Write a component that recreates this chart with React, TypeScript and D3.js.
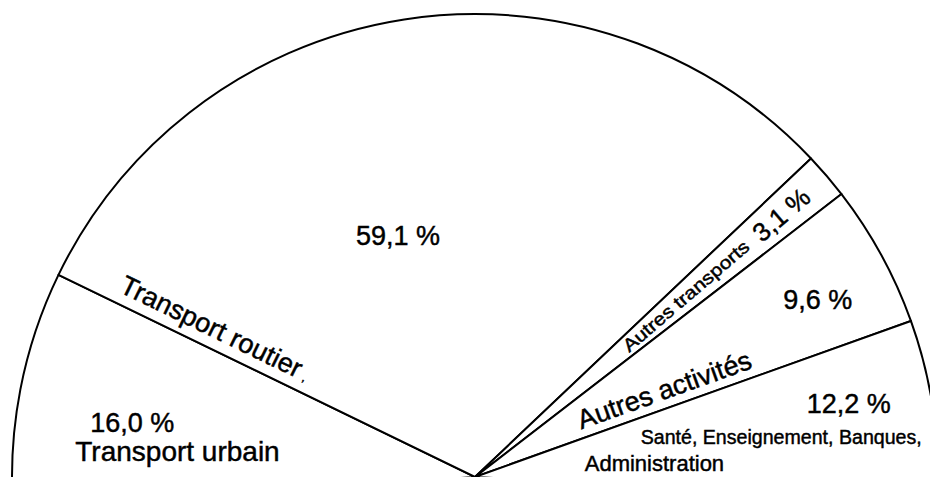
import React from "react";
import * as d3 from "d3";

// ---- data ----
const categories = [
  "Transport urbain",
  "Transport routier",
  "Autres transports",
  "Autres activités",
  "Santé, Enseignement, Banques, Administration",
];
const shares = [16.0, 59.1, 3.1, 9.6, 12.2];
const shareLabels = ["16,0 %", "59,1 %", "3,1 %", "9,6 %", "12,2 %"];

// ---- layout ----
const W = 930;
const H = 477;
const CX = 475;
const CY = 477;
const R = 463;
const START_DEG = -94.06;
const END_DEG = 93.14;
const FONT = "'Liberation Sans', Arial, Helvetica, sans-serif";

const rad = (d: number) => (d * Math.PI) / 180;
const deg = (r: number) => (r * 180) / Math.PI;

export default function App() {
  const pie = d3
    .pie<number>()
    .sort(null)
    .value((d) => d)
    .startAngle(rad(START_DEG))
    .endAngle(rad(END_DEG));
  const arcs = pie(shares);
  const arcGen = d3.arc<d3.PieArcDatum<number>>().innerRadius(0).outerRadius(R);

  const polar = (a: number, r: number) => [CX + r * Math.sin(a), CY - r * Math.cos(a)];
  const within = (i: number, f: number) =>
    arcs[i].startAngle + f * (arcs[i].endAngle - arcs[i].startAngle);

  const a0 = polar(within(0, 0.44), 0.754 * R);
  const a1 = polar(within(1, 0.42), 0.549 * R);
  const a3 = polar(within(3, 0.57), 0.834 * R);
  const a4 = polar(within(4, 0.37), 0.823 * R);

  const rotRoutier = deg(arcs[1].startAngle) + 90;
  const midTrans = (arcs[2].startAngle + arcs[2].endAngle) / 2;
  const rotTrans = deg(midTrans) - 90;
  const rotAct = deg(arcs[3].endAngle) - 90;

  const txt = { fill: "#000", stroke: "#000", strokeWidth: 0.45 };

  return (
    <svg
      width={W}
      height={H}
      style={{ position: "absolute", left: 0, top: 0, background: "#fff" }}
      fontFamily={FONT}
    >
      <rect width={W} height={H} fill="#fff" />
      <g transform={`translate(${CX},${CY})`}>
        {arcs.map((a, i) => (
          <path
            key={categories[i]}
            d={arcGen(a) || ""}
            fill="#fff"
            stroke="#000"
            strokeWidth={2}
            strokeLinejoin="round"
          />
        ))}
      </g>

      {/* Transport urbain */}
      <text x={a0[0] - 40} y={a0[1] + 10} fontSize={27} {...txt}>
        {shareLabels[0]}
      </text>
      <text x={a0[0] - 55} y={a0[1] + 39} fontSize={28} {...txt}>
        {categories[0]}
      </text>

      {/* Transport routier */}
      <text x={a1[0]} y={a1[1] + 10} fontSize={27} textAnchor="middle" {...txt}>
        {shareLabels[1]}
      </text>
      <g transform={`translate(${CX},${CY}) rotate(${rotRoutier})`}>
        <text x={-402} y={-11} fontSize={27} {...txt}>
          {categories[1]}
          <tspan fontSize={12} dx={5}>,</tspan>
        </text>
      </g>

      {/* Autres transports */}
      <g transform={`translate(${CX},${CY}) rotate(${rotTrans})`}>
        <text x={198} y={6} fontSize={18} textLength={160} lengthAdjust="spacingAndGlyphs" {...txt}>
          {categories[2]}
        </text>
        <text x={370} y={9} fontSize={26} {...txt}>
          {shareLabels[2]}
        </text>
      </g>

      {/* Autres activités */}
      <text x={a3[0]} y={a3[1] + 10} fontSize={27} textAnchor="middle" {...txt}>
        {shareLabels[3]}
      </text>
      <g transform={`translate(${CX},${CY}) rotate(${rotAct})`}>
        <text x={116} y={-9} fontSize={27} {...txt}>
          {categories[3]}
        </text>
      </g>

      {/* Santé ... */}
      <text x={a4[0]} y={a4[1] + 10} fontSize={27} textAnchor="middle" {...txt}>
        {shareLabels[4]}
      </text>
      <text
        x={a4[0] - 208}
        y={a4[1] + 41}
        fontSize={20}
        textLength={281}
        lengthAdjust="spacingAndGlyphs"
        {...txt}
      >
        Santé, Enseignement, Banques,
      </text>
      <text x={a4[0] - 264} y={a4[1] + 68} fontSize={22} {...txt}>
        Administration
      </text>
    </svg>
  );
}
